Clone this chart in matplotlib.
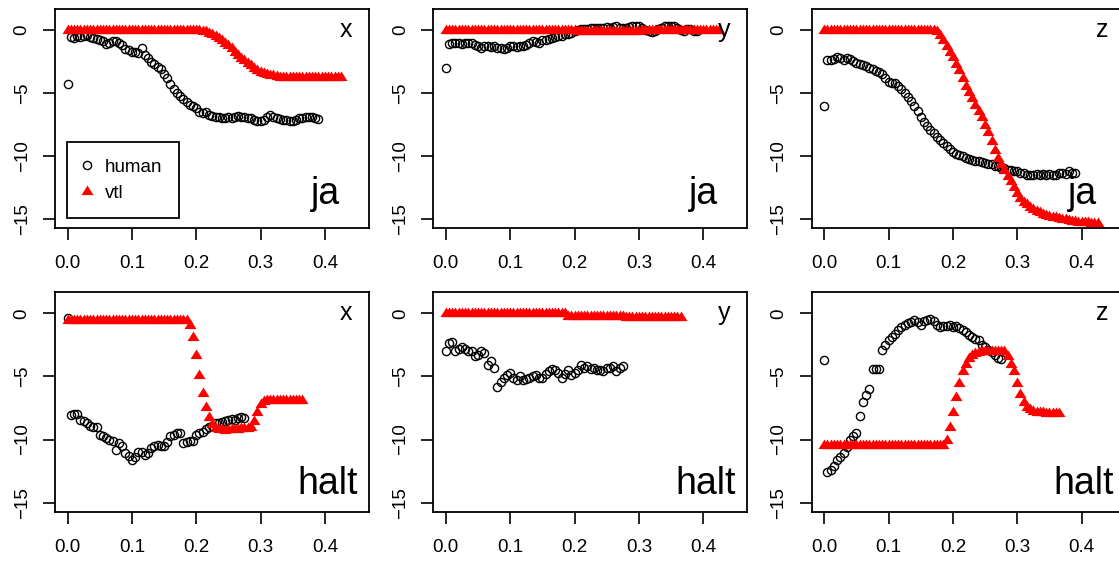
"""
human vs vtl trajectories, 2x3 panel grid (ja / halt, x y z)
"""
import numpy as np
import matplotlib
matplotlib.use('Agg')
import matplotlib.pyplot as plt

plt.rcParams['font.family'] = ['Liberation Sans', 'DejaVu Sans']

STEP = 0.005  # sampling interval (s)

# ---- ja ----
human_ja_x = [-4.3, -0.55, -0.6, -0.5, -0.55, -0.45, -0.4, -0.55, -0.6, -0.7,
              -0.8, -0.9, -1.1, -1.0, -0.9, -0.85, -1.0, -1.2, -1.5, -1.6,
              -1.7, -1.7, -1.8, -1.4, -2.0, -2.2, -2.5, -2.7, -2.9, -3.1,
              -3.5, -3.8, -4.3, -4.7, -5.0, -5.2, -5.5, -5.7, -5.9, -6.0,
              -6.2, -6.5, -6.6, -6.5, -6.7, -6.8, -6.85, -6.9, -7.0, -6.95,
              -6.9, -6.95, -6.85, -6.8, -6.9, -6.9, -7.0, -7.0, -7.1, -7.2,
              -7.2, -7.1, -6.9, -6.7, -6.9, -7.0, -7.05, -7.1, -7.1, -7.2,
              -7.2, -7.1, -7.0, -6.95, -6.9, -6.85, -6.9, -7.0, -7.05]
human_ja_y = [-3.0, -1.1, -1.0, -1.05, -1.0, -1.1, -1.0, -1.05, -1.0, -1.15,
              -1.3, -1.4, -1.25, -1.3, -1.35, -1.3, -1.4, -1.45, -1.5, -1.4,
              -1.3, -1.25, -1.35, -1.3, -1.25, -1.15, -1.05, -0.9, -0.95, -1.0,
              -0.8, -0.75, -0.7, -0.65, -0.55, -0.5, -0.45, -0.3, -0.35, -0.2,
              -0.1, 0.0, 0.05, 0.1, 0.1, 0.15, 0.2, 0.2, 0.15, 0.2,
              0.25, 0.2, 0.25, 0.3, 0.2, 0.15, 0.2, 0.25, 0.3, 0.3,
              0.3, 0.2, 0.0, -0.1, -0.15, -0.05, 0.1, 0.2, 0.3, 0.35,
              0.35, 0.3, 0.2, 0.0, -0.05, 0.1, 0.05, -0.05, -0.1]
human_ja_z = [-6.05, -2.4, -2.35, -2.3, -2.15, -2.2, -2.35, -2.2, -2.3, -2.45,
              -2.6, -2.7, -2.8, -2.85, -3.0, -3.1, -3.25, -3.35, -3.5, -3.8,
              -4.1, -4.2, -4.2, -4.45, -4.7, -5.0, -5.3, -5.65, -6.05, -6.45,
              -6.85, -7.25, -7.6, -7.9, -8.15, -8.45, -8.7, -8.95, -9.2, -9.45,
              -9.7, -9.85, -9.9, -10.0, -10.1, -10.2, -10.3, -10.35, -10.4, -10.45,
              -10.5, -10.6, -10.65, -10.75, -10.8, -10.9, -10.95, -11.05, -11.1, -11.15,
              -11.2, -11.3, -11.35, -11.45, -11.5, -11.45, -11.4, -11.45, -11.4, -11.45,
              -11.4, -11.5, -11.45, -11.35, -11.3, -11.4, -11.2, -11.35, -11.3]

vtl_ja_x = [0.0, 0.0, 0.0, 0.0, 0.0, 0.0, 0.0, 0.0, 0.0, 0.0,
            0.0, 0.0, 0.0, 0.0, 0.0, 0.0, 0.0, 0.0, 0.0, 0.0,
            0.0, 0.0, 0.0, 0.0, 0.0, 0.0, 0.0, 0.0, 0.0, 0.0,
            0.0, 0.0, 0.0, 0.0, 0.0, 0.0, 0.0, 0.0, 0.0, 0.0,
            0.0, 0.0, -0.05, -0.1, -0.2, -0.3, -0.45, -0.6, -0.8, -1.0,
            -1.2, -1.45, -1.7, -1.95, -2.2, -2.4, -2.6, -2.8, -3.0, -3.15,
            -3.3, -3.4, -3.5, -3.55, -3.6, -3.65, -3.7, -3.7, -3.75, -3.75,
            -3.75, -3.75, -3.75, -3.75, -3.75, -3.75, -3.75, -3.75, -3.75, -3.75,
            -3.75, -3.75, -3.75, -3.75, -3.75, -3.75]
vtl_ja_y = [0.0, 0.0, 0.0, 0.0, 0.0, 0.0, 0.0, 0.0, 0.0, 0.0,
            0.0, 0.0, 0.0, 0.0, 0.0, 0.0, 0.0, 0.0, 0.0, 0.0,
            0.0, 0.0, 0.0, 0.0, 0.0, 0.0, 0.0, 0.0, 0.0, 0.0,
            0.0, 0.0, 0.0, 0.0, 0.0, 0.0, 0.0, 0.0, 0.0, 0.0,
            0.0, -0.1, -0.1, -0.1, -0.1, -0.1, -0.1, -0.1, -0.1, -0.1,
            -0.1, -0.1, -0.1, -0.1, -0.1, -0.1, -0.1, -0.1, -0.1, -0.1,
            -0.1, 0.0, 0.0, 0.0, 0.0, 0.0, 0.0, 0.0, 0.0, 0.0,
            0.0, 0.0, 0.0, 0.0, 0.0, 0.0, 0.0, 0.0, 0.0, 0.0,
            0.0, 0.0, 0.0, 0.0, 0.0, 0.0]
vtl_ja_z = [0.0, 0.0, 0.0, 0.0, 0.0, 0.0, 0.0, 0.0, 0.0, 0.0,
            0.0, 0.0, 0.0, 0.0, 0.0, 0.0, 0.0, 0.0, 0.0, 0.0,
            0.0, 0.0, 0.0, 0.0, 0.0, 0.0, 0.0, 0.0, 0.0, 0.0,
            0.0, 0.0, 0.0, 0.0, 0.0, -0.1, -0.4, -0.8, -1.3, -1.7,
            -2.1, -2.7, -3.2, -3.8, -4.4, -4.9, -5.4, -5.9, -6.4, -6.9,
            -7.5, -8.1, -8.8, -9.5, -10.1, -10.6, -11.1, -11.6, -12.0, -12.4,
            -12.9, -13.3, -13.6, -13.8, -14.0, -14.2, -14.35, -14.45, -14.55, -14.65,
            -14.7, -14.8, -14.85, -14.9, -14.95, -15.0, -15.05, -15.1, -15.15, -15.2,
            -15.2, -15.25, -15.25, -15.3, -15.3, -15.3]

# ---- halt ----
human_halt_x = [-0.4, -8.05, -8.0, -7.95, -8.45, -8.5, -8.7, -8.9, -8.98, -9.0,
                -9.6, -9.7, -9.9, -10.0, -10.15, -10.8, -10.3, -10.5, -11.1, -11.3,
                -11.6, -11.4, -10.95, -11.0, -11.2, -11.1, -10.7, -10.5, -10.45, -10.5,
                -10.55, -10.2, -9.75, -9.6, -9.5, -9.5, -10.3, -10.2, -10.15, -10.1,
                -9.65, -9.5, -9.4, -9.2, -9.0, -8.9, -8.7, -8.7, -8.6, -8.5,
                -8.45, -8.4, -8.45, -8.3, -8.2, -8.3]
human_halt_y = [-3.0, -2.35, -2.3, -3.0, -2.8, -2.7, -2.8, -3.0, -3.0, -3.4,
                -3.3, -3.0, -3.15, -4.1, -3.8, -4.35, -5.8, -5.4, -5.1, -4.9,
                -4.75, -5.1, -5.25, -5.0, -5.25, -5.2, -5.1, -5.0, -4.85, -5.1,
                -5.15, -4.8, -4.6, -4.4, -4.5, -4.7, -5.1, -4.8, -4.5, -4.9,
                -4.7, -4.5, -4.1, -4.3, -4.2, -4.4, -4.35, -4.5, -4.45, -4.6,
                -4.35, -4.3, -4.2, -4.6, -4.35, -4.15]
human_halt_z = [-3.7, -12.6, -12.4, -12.1, -11.6, -11.35, -11.1, -10.6, -10.0, -9.7,
                -9.5, -8.1, -7.0, -6.5, -6.0, -4.4, -4.4, -4.4, -2.9, -2.5,
                -2.1, -1.85, -1.6, -1.3, -1.05, -0.9, -0.75, -0.65, -0.55, -0.7,
                -0.9, -0.6, -0.5, -0.45, -0.6, -0.9, -1.1, -1.0, -1.0, -0.95,
                -1.05, -1.0, -1.15, -1.3, -1.5, -1.7, -1.9, -2.0, -2.1, -2.5,
                -2.7, -2.9, -3.1, -3.3, -3.5, -3.6]

vtl_halt_x = [-0.5, -0.5, -0.5, -0.5, -0.5, -0.5, -0.5, -0.5, -0.5, -0.5,
              -0.5, -0.5, -0.5, -0.5, -0.5, -0.5, -0.5, -0.5, -0.5, -0.5,
              -0.5, -0.5, -0.5, -0.5, -0.5, -0.5, -0.5, -0.5, -0.5, -0.5,
              -0.5, -0.5, -0.5, -0.5, -0.5, -0.5, -0.5, -0.5, -0.9, -1.85,
              -3.3, -4.9, -6.3, -7.4, -8.2, -8.8, -9.1, -9.2, -9.2, -9.25,
              -9.2, -9.2, -9.15, -9.15, -9.1, -9.1, -9.05, -9.0, -8.5, -7.8,
              -7.2, -6.95, -6.85, -6.85, -6.85, -6.85, -6.85, -6.85, -6.85, -6.85,
              -6.85, -6.85, -6.85, -6.85]
vtl_halt_y = [0.0, 0.0, 0.0, 0.0, 0.0, 0.0, 0.0, 0.0, 0.0, 0.0,
              0.0, 0.0, 0.0, 0.0, 0.0, 0.0, 0.0, 0.0, 0.0, 0.0,
              0.0, 0.0, 0.0, 0.0, 0.0, 0.0, 0.0, 0.0, 0.0, 0.0,
              0.0, 0.0, 0.0, 0.0, 0.0, 0.0, 0.0, 0.0, -0.2, -0.2,
              -0.2, -0.2, -0.2, -0.2, -0.2, -0.2, -0.2, -0.2, -0.2, -0.2,
              -0.2, -0.2, -0.2, -0.2, -0.2, -0.2, -0.3, -0.3, -0.3, -0.3,
              -0.3, -0.3, -0.3, -0.3, -0.3, -0.3, -0.3, -0.3, -0.3, -0.3,
              -0.3, -0.3, -0.3, -0.3]
vtl_halt_z = [-10.4, -10.4, -10.4, -10.4, -10.4, -10.4, -10.4, -10.4, -10.4, -10.4,
              -10.4, -10.4, -10.4, -10.4, -10.4, -10.4, -10.4, -10.4, -10.4, -10.4,
              -10.4, -10.4, -10.4, -10.4, -10.4, -10.4, -10.4, -10.4, -10.4, -10.4,
              -10.4, -10.4, -10.4, -10.4, -10.4, -10.4, -10.4, -10.4, -10.0, -9.0,
              -7.8, -6.6, -5.5, -4.6, -4.0, -3.55, -3.3, -3.15, -3.05, -3.0,
              -3.0, -3.0, -3.0, -3.0, -3.0, -3.0, -3.0, -3.4, -4.0, -4.6,
              -5.5, -6.4, -7.0, -7.4, -7.6, -7.75, -7.8, -7.85, -7.85, -7.9,
              -7.9, -7.9, -7.9, -7.9]

words = ['ja', 'halt']
dims = ['x', 'y', 'z']
human = {('ja', 'x'): human_ja_x, ('ja', 'y'): human_ja_y, ('ja', 'z'): human_ja_z,
         ('halt', 'x'): human_halt_x, ('halt', 'y'): human_halt_y, ('halt', 'z'): human_halt_z}
vtl = {('ja', 'x'): vtl_ja_x, ('ja', 'y'): vtl_ja_y, ('ja', 'z'): vtl_ja_z,
       ('halt', 'x'): vtl_halt_x, ('halt', 'y'): vtl_halt_y, ('halt', 'z'): vtl_halt_z}

# R-style filled triangle (wider than tall)
tri = [(-1.0, -0.6), (1.0, -0.6), (0.0, 1.0)]

W, H = 1119, 563
fig = plt.figure(figsize=(W / 100, H / 100), dpi=100)

# panel geometry in pixels (the right column runs past the image edge)
ax_w, ax_h = 314, 219.3
lefts = [55, 433.3, 811.7]
tops = [9, 292.3]

for r, word in enumerate(words):
    for c, dim in enumerate(dims):
        ax = fig.add_axes([lefts[c] / W, 1 - (tops[r] + ax_h) / H, ax_w / W, ax_h / H])
        h = np.array(human[(word, dim)])
        v = np.array(vtl[(word, dim)])
        ax.plot(np.arange(len(h)) * STEP, h, 'o', ms=5.9, mfc='none', mec='black',
                mew=1.0, label='human')
        ax.plot(np.arange(len(v)) * STEP, v, marker=tri, ls='none', ms=8.6,
                color='red', mew=0, label='vtl')

        ax.set_xlim(-0.0195, 0.4685)
        ax.set_ylim(-15.71, 1.67)
        ax.set_xticks([0, 0.1, 0.2, 0.3, 0.4])
        ax.set_xticklabels(['0.0', '0.1', '0.2', '0.3', '0.4'])
        ax.set_yticks([0, -5, -10, -15])
        ax.set_yticklabels(['0', '\u22125', '\u221210', '\u221215'])
        ax.tick_params(axis='both', direction='out', length=8.5, width=1.2,
                       labelsize=13.5, color='black')
        ax.tick_params(axis='x', pad=11)
        ax.tick_params(axis='y', pad=9, labelrotation=90)
        for lab in ax.get_yticklabels():
            lab.set_va('center')
        for sp in ax.spines.values():
            sp.set_linewidth(1.3)

        ax.text(1 - 17 / ax_w, 1 - 28 / ax_h, dim, transform=ax.transAxes,
                ha='right', va='baseline', fontsize=18)
        off = 29 if word == 'ja' else 11.5
        base = 24 if word == 'ja' else 18
        ax.text(1 - off / ax_w, base / ax_h, word, transform=ax.transAxes,
                ha='right', va='baseline', fontsize=27)

        if r == 0 and c == 0:
            leg = ax.legend(loc='lower left', bbox_to_anchor=(11.7 / ax_w, 10 / ax_h),
                            borderaxespad=0, fontsize=13.5, fancybox=False,
                            edgecolor='black', framealpha=1, handlelength=0.4,
                            handletextpad=0.78, borderpad=0.87, labelspacing=0.48,
                            markerscale=1.0)
            leg.get_frame().set_linewidth(1.3)

fig.savefig('out.png', dpi=100)
